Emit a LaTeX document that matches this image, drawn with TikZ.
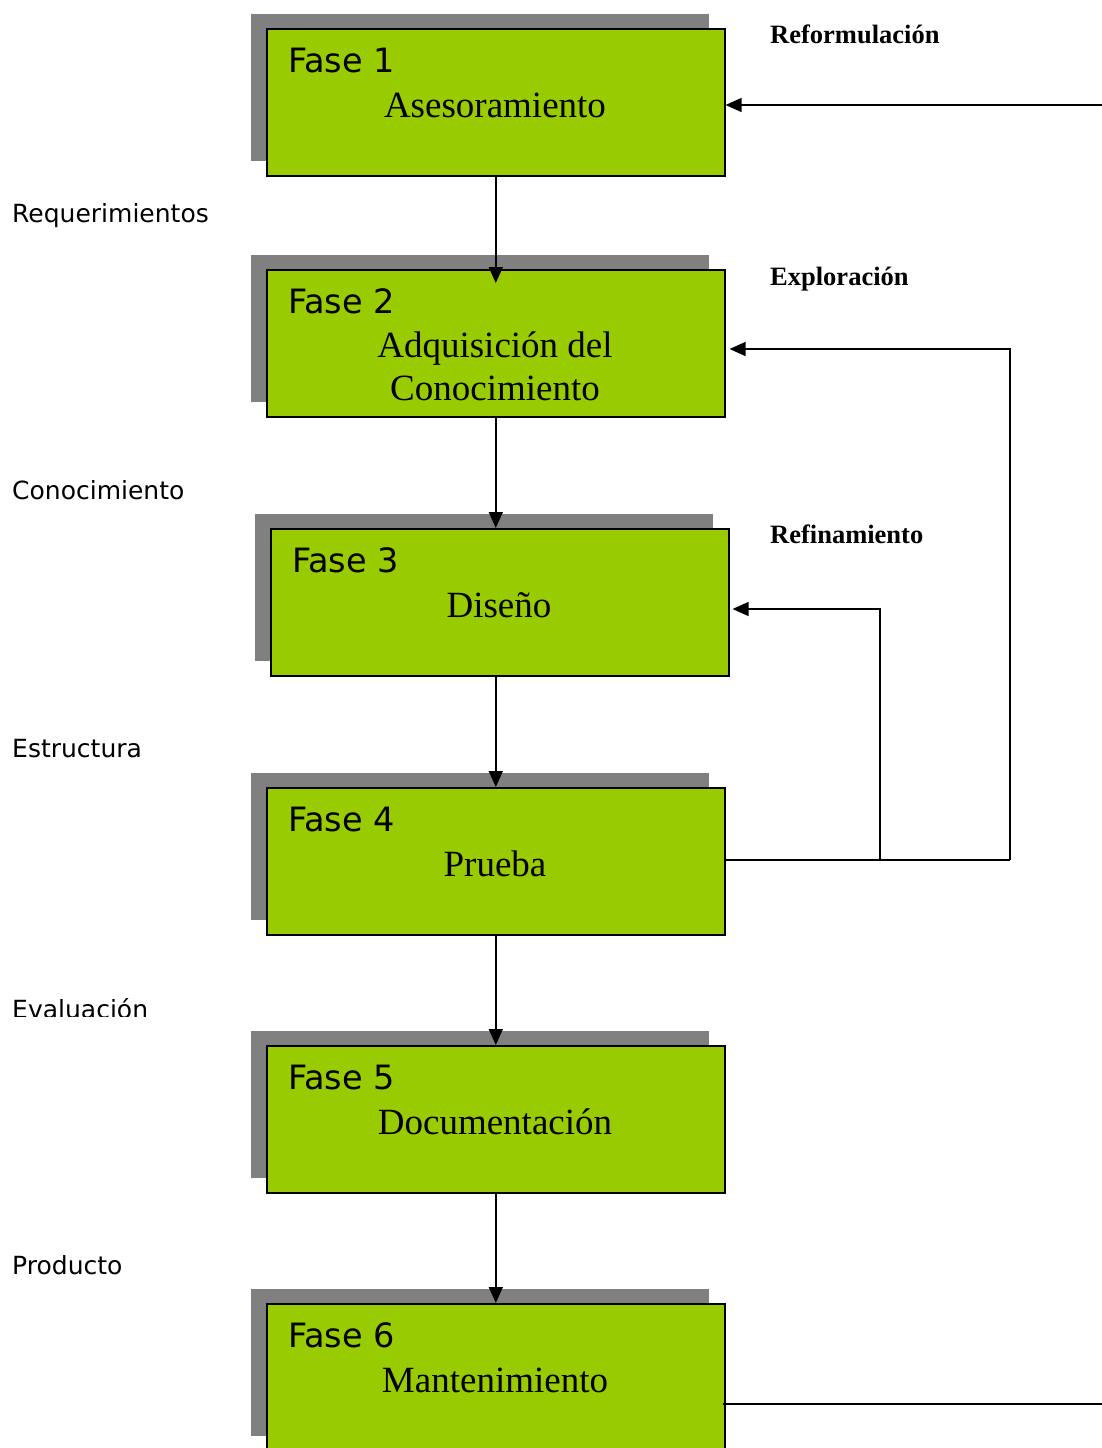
\documentclass[tikz,border=0pt]{standalone}
\usepackage{fontspec}
\setmainfont{Liberation Serif}
\newfontfamily\labelsans{DejaVu Sans}
\usetikzlibrary{arrows.meta,shadows,calc}
\definecolor{phasegreen}{HTML}{99CC00}
\definecolor{shadowgray}{HTML}{808080}

\begin{document}
\begin{tikzpicture}[x=1pt,y=-1pt,
  phasebox/.style={draw=black, line width=1.6pt, fill=phasegreen,
    minimum width=458pt, minimum height=147pt, anchor=north west, inner sep=0pt,
    general shadow={fill=shadowgray, shadow xshift=-16pt, shadow yshift=15pt}},
  phasetitle/.style={inner sep=0pt, anchor=base west,
    font=\labelsans\fontsize{33.5}{40}\selectfont},
  phasename/.style={inner sep=0pt, anchor=base,
    font=\fontsize{37}{44}\selectfont},
  flowlabel/.style={inner sep=0pt, anchor=base west,
    font=\labelsans\fontsize{25}{30}\selectfont},
  looplabel/.style={inner sep=0pt, anchor=base west,
    font=\bfseries\fontsize{26.5}{31}\selectfont},
  flow/.style={line width=1.6pt, -{Triangle[length=16pt,width=14pt]}},
  plainline/.style={line width=1.6pt}]

\useasboundingbox (0,0) rectangle (1102,1448);
\clip (0,0) rectangle (1102,1448);

% phase boxes
\node[phasebox] (b1) at (266,28) {};
\node[phasebox] (b2) at (266,269) {};
\node[phasebox] (b3) at (270,528) {};
\node[phasebox] (b4) at (266,787) {};
\node[phasebox] (b5) at (266,1045) {};
\node[phasebox] (b6) at (266,1303) {};

% box titles
\node[phasetitle] (f1) at (288,72) {Fase 1};
\node[phasetitle] (f2) at (288,313) {Fase 2};
\node[phasetitle] (f3) at (292,572) {Fase 3};
\node[phasetitle] (f4) at (288,831) {Fase 4};
\node[phasetitle] (f5) at (288,1089) {Fase 5};
\node[phasetitle] (f6) at (288,1347) {Fase 6};

% box contents
\node[phasename] (t1) at (495,117) {Asesoramiento};
\node[phasename] (t2a) at (495,357) {Adquisición del};
\node[phasename] (t2b) at (495,400) {Conocimiento};
\node[phasename] (t3) at (499,617) {Diseño};
\node[phasename] (t4) at (495,876) {Prueba};
\node[phasename] (t5) at (495,1134) {Documentación};
\node[phasename] (t6) at (495,1392) {Mantenimiento};

% products passed between phases
\node[flowlabel] (l1) at (12,222) {Requerimientos};
\node[flowlabel] (l2) at (12,499) {Conocimiento};
\node[flowlabel] (l3) at (12,757) {Estructura};
\begin{scope}
  \clip (0,990) rectangle (300,1016.5);
  \node[flowlabel] (l4) at (12,1018) {Evaluación};
\end{scope}
\node[flowlabel] (l5) at (12,1274) {Producto};

% feedback loop names
\node[looplabel] (r1) at (770,43) {Reformulación};
\node[looplabel] (r2) at (770,285) {Exploración};
\node[looplabel] (r3) at (770,543) {Refinamiento};

% main sequence
\draw[flow] (b1.south) -- ($(b2.north)+(0,14)$);
\draw[flow] (b2.south) -- (b3.north -| b2.south);
\draw[flow] (b3.south -| b2.south) -- (b4.north);
\draw[flow] (b4.south) -- (b5.north);
\draw[flow] (b5.south) -- (b6.north);

% feedback loops
\coordinate (rin) at (1102,105);
\coordinate (eout) at (1010,860);
\coordinate (etop) at (1010,349);
\coordinate (fj) at (880,860);
\coordinate (ftop) at (880,609);
\coordinate (mout) at (1102,1404);

\draw[flow] (rin) -- (b1.east |- rin);
\draw[plainline] (b4.east |- eout) -- (eout);
\draw[flow] (eout) -- (etop) -- ($(b2.east |- etop)+(4,0)$);
\draw[flow] (fj) -- (ftop) -- ($(b3.east |- ftop)+(3,0)$);
\draw[plainline] ($(b6.east |- mout)+(-3,0)$) -- (mout);

\end{tikzpicture}
\end{document}
